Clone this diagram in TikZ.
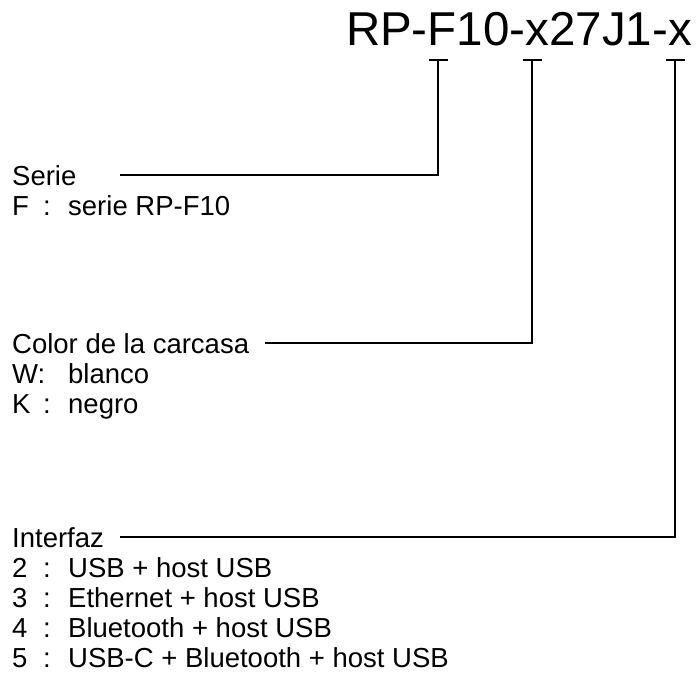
\documentclass[tikz,border=0pt]{standalone}
\usepackage{fontspec}
\setmainfont{Liberation Sans}
\begin{document}
\begin{tikzpicture}[x=1pt,y=1pt,
  txt/.style={anchor=base west, inner sep=0pt, font=\fontsize{27.5}{31}\selectfont},
  conn/.style={line width=1.4pt, line join=miter}]
\useasboundingbox (0,0) rectangle (698,-691);
\node[anchor=base east, inner sep=0pt, font=\fontsize{47.5}{52}\selectfont] (title) at (692,-45) {RP-F10-x27J1-x};
% markers and connector corners
\coordinate (t1) at (438,-60);
\coordinate (t2) at (532,-60);
\coordinate (t3) at (675,-60);
\coordinate (c1) at (438,-175);
\coordinate (c2) at (532,-343);
\coordinate (c3) at (675,-537);
\coordinate (s1) at (120,-175);
\coordinate (s2) at (265,-343);
\coordinate (s3) at (120,-537);
% texts
\node[txt] (serie) at (12,-185) {Serie};
\node[txt] (kf) at (12,-215) {\makebox[31pt][l]{F}:};
\node[txt] (df) at (68,-215) {serie RP-F10};
\node[txt] (color) at (12,-353) {Color de la carcasa};
\node[txt] (kw) at (12,-383) {W:};
\node[txt] (dw) at (68,-383) {blanco};
\node[txt] (kk) at (12,-413) {\makebox[31pt][l]{K}:};
\node[txt] (dk) at (68,-413) {negro};
\node[txt] (inter) at (12,-547) {Interfaz};
\node[txt] (k2) at (12,-577) {\makebox[31pt][l]{2}:};
\node[txt] (d2) at (68,-577) {USB + host USB};
\node[txt] (k3) at (12,-607) {\makebox[31pt][l]{3}:};
\node[txt] (d3) at (68,-607) {Ethernet + host USB};
\node[txt] (k4) at (12,-637) {\makebox[31pt][l]{4}:};
\node[txt] (d4) at (68,-637) {Bluetooth + host USB};
\node[txt] (k5) at (12,-667) {\makebox[31pt][l]{5}:};
\node[txt] (d5) at (68,-667) {USB-C + Bluetooth + host USB};
% connectors
\draw[conn] (s1) -- (c1) -- (t1);
\draw[conn] (s2) -- (c2) -- (t2);
\draw[conn] (s3) -- (c3) -- (t3);
\foreach \t in {t1,t2,t3}
  \draw[conn] ([xshift=-9.5pt]\t) -- ([xshift=9.5pt]\t);
\end{tikzpicture}
\end{document}
